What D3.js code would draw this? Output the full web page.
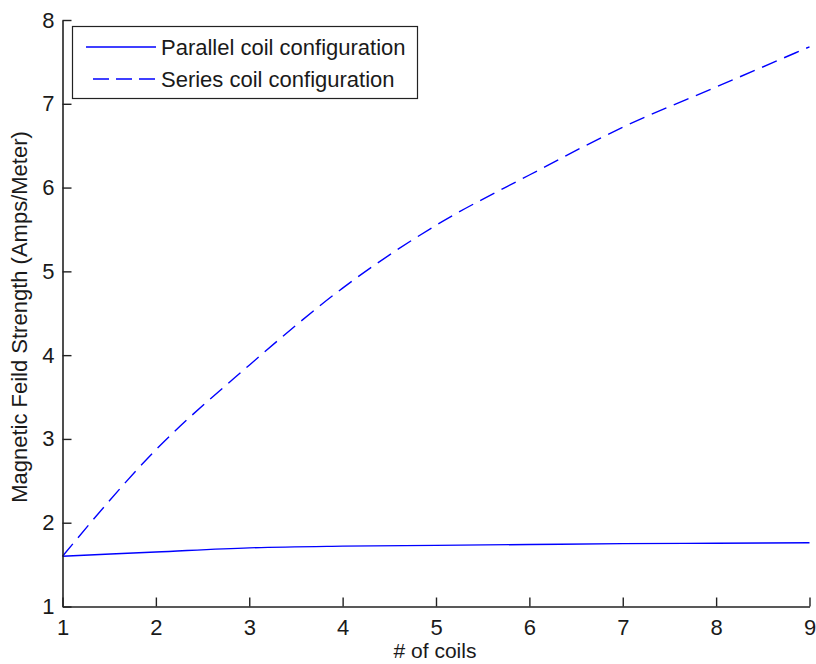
<!DOCTYPE html>
<html>
<head>
<meta charset="utf-8">
<script src="https://cdn.jsdelivr.net/npm/d3@7"></script>
<style>
  body { margin: 0; background: #fff; }
  text { font-family: "Liberation Sans", Arial, sans-serif; fill: #1a1a1a; }
</style>
</head>
<body>
<div id="chart"></div>
<script>
// data
const coils = [1, 2, 3, 4, 5, 6, 7, 8, 9]
const parallel = [1.60, 1.65, 1.70, 1.72, 1.73, 1.74, 1.75, 1.755, 1.76]
const series = [1.60, 2.87, 3.88, 4.80, 5.55, 6.15, 6.72, 7.20, 7.68]
const xTicks = [1, 2, 3, 4, 5, 6, 7, 8, 9]
const yTicks = [1, 2, 3, 4, 5, 6, 7, 8]
const legendNames = ['Parallel coil configuration', 'Series coil configuration']

const W = 816, H = 664
const margin = {top: 20, right: 6.5, bottom: 57.5, left: 62.5}
const fontSize = 22

const svg = d3.select('#chart')
  .append('svg')
  .attr('width', W)
  .attr('height', H)

const x = d3.scaleLinear().domain([1, 9]).range([margin.left, W - margin.right])
const y = d3.scaleLinear().domain([1, 8]).range([H - margin.bottom, margin.top])

const line = d3.line()
  .x((d, i) => x(coils[i]))
  .y(d => y(d))
  .curve(d3.curveMonotoneX)

// lines
svg.append('path')
  .attr('d', line(parallel))
  .attr('fill', 'none')
  .attr('stroke', '#0000ff')
  .attr('stroke-width', 1.4)

svg.append('path')
  .attr('d', line(series))
  .attr('fill', 'none')
  .attr('stroke', '#0000ff')
  .attr('stroke-width', 1.4)
  .attr('stroke-dasharray', '16,8')

// axes (ticks pointing inward)
const xAxis = svg.append('g')
  .attr('transform', `translate(0, ${y(1)})`)
  .call(d3.axisBottom(x).tickValues(xTicks).tickFormat(d3.format('d'))
    .tickSizeInner(-9).tickSizeOuter(0).tickPadding(13))
const yAxis = svg.append('g')
  .attr('transform', `translate(${x(1)}, 0)`)
  .call(d3.axisLeft(y).tickValues(yTicks).tickFormat(d3.format('d'))
    .tickSizeInner(-9).tickSizeOuter(0).tickPadding(8))

;[xAxis, yAxis].forEach(g => {
  g.select('.domain').attr('stroke', '#222').attr('stroke-width', 1.6)
  g.selectAll('.tick line').attr('stroke', '#222').attr('stroke-width', 1.4)
  g.selectAll('.tick text')
    .style('font-size', fontSize + 'px')
    .style('font-family', '"Liberation Sans", Arial, sans-serif')
    .attr('fill', '#1a1a1a')
})

// axis titles
svg.append('text')
  .attr('x', 435)
  .attr('y', 658)
  .style('text-anchor', 'middle')
  .style('font-size', '21px')
  .text('# of coils')

svg.append('text')
  .attr('transform', 'translate(27, 317) rotate(-90)')
  .style('text-anchor', 'middle')
  .style('font-size', fontSize + 'px')
  .text('Magnetic Feild Strength (Amps/Meter)')

// legend
const legend = svg.append('g')
legend.append('rect')
  .attr('x', 72.5)
  .attr('y', 26.5)
  .attr('width', 345)
  .attr('height', 72)
  .attr('fill', '#fff')
  .attr('stroke', '#222')
  .attr('stroke-width', 1.2)

legendNames.forEach((name, i) => {
  const ly = 47 + i * 32
  legend.append('line')
    .attr('x1', i === 0 ? 86 : 93)
    .attr('x2', 156)
    .attr('y1', ly)
    .attr('y2', ly)
    .attr('stroke', '#0000ff')
    .attr('stroke-width', 1.4)
    .attr('stroke-dasharray', i === 0 ? null : '16,7')
  legend.append('text')
    .attr('x', 161)
    .attr('y', ly + 8)
    .style('font-size', fontSize + 'px')
    .text(name)
})
</script>
</body>
</html>
